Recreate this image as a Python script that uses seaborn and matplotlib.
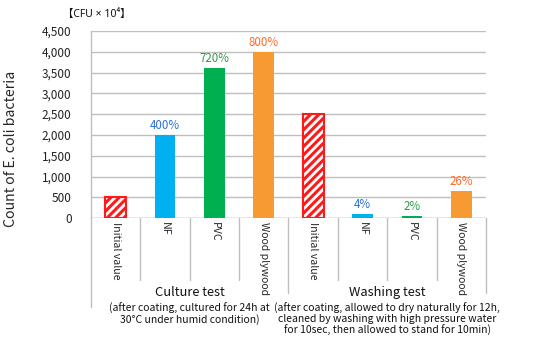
import matplotlib
matplotlib.use("Agg")
import matplotlib.pyplot as plt
from matplotlib.ticker import FuncFormatter
import matplotlib.transforms as mtransforms
import seaborn as sns
import pandas as pd

# Data
categories = ["Initial value", "NF", "PVC", "Wood plywood",
              "Initial value", "NF", "PVC", "Wood plywood"]
groups = ["Culture", "Culture", "Culture", "Culture",
          "Washing", "Washing", "Washing", "Washing"]
materials = ["Initial", "NF", "PVC", "Wood", "Initial", "NF", "PVC", "Wood"]
counts = [500, 2000, 3600, 4000, 2500, 100, 50, 650]
pct_labels = [None, "400%", "720%", "800%", None, "4%", "2%", "26%"]
group_titles = ["Culture test", "Washing test"]
group_notes = [
    "(after coating, cultured for 24h at\n30\u00b0C under humid condition)",
    "(after coating, allowed to dry naturally for 12h,\n"
    "cleaned by washing with high pressure water\n"
    "for 10sec, then allowed to stand for 10min)",
]
y_ticks = [0, 500, 1000, 1500, 2000, 2500, 3000, 3500, 4000, 4500]

bar_colors = {"Initial": "#FFFFFF", "NF": "#00B0F0", "PVC": "#00B050", "Wood": "#F79A31"}
label_colors = {"NF": "#2A6FDB", "PVC": "#2E9A48", "Wood": "#FF6A2B"}

sns.set_style("white")
plt.rcParams["font.family"] = ["Noto Sans CJK JP", "DejaVu Sans"]
plt.rcParams["hatch.linewidth"] = 2.2

df = pd.DataFrame({
    "pos": [f"{g}-{c}" for g, c in zip(groups, categories)],
    "count": counts,
    "material": materials,
})

fig = plt.figure(figsize=(5.4, 3.44), dpi=100)
ax = fig.add_axes([0.1685, 0.366, 0.7315, 0.544])

sns.barplot(data=df, x="pos", y="count", hue="material", palette=bar_colors,
            dodge=False, width=0.42, legend=False, ax=ax, saturation=1)

# Hatched red outline for the initial-value bars, flat fill for the rest
bars = sorted([p for p in ax.patches if p.get_height() > 0], key=lambda p: p.get_x())
for p, mat in zip(bars, materials):
    if mat == "Initial":
        p.set_facecolor("white")
        p.set_edgecolor("#FF1A1A")
        p.set_hatch("////")
        p.set_linewidth(1.5)
    else:
        p.set_edgecolor("none")
    p.set_zorder(3)

# Percentage labels above bars
for i, (val, lab, mat) in enumerate(zip(counts, pct_labels, materials)):
    if lab:
        ax.text(i, val + 70, lab, ha="center", va="bottom", fontsize=8.3,
                color=label_colors[mat], zorder=4)

ax.set_ylim(0, 4500)
ax.set_xlim(-0.5, 7.5)
ax.set_yticks(y_ticks)
ax.yaxis.set_major_formatter(FuncFormatter(lambda v, _: f"{int(v):,}"))
ax.tick_params(axis="y", labelsize=8.5, length=0, pad=14, colors="#222222")
ax.yaxis.grid(True, color="#BFBFBF", linewidth=1.0)
ax.set_axisbelow(True)
for s in ["top", "right", "bottom"]:
    ax.spines[s].set_visible(False)
ax.spines["left"].set_color("#BFBFBF")
ax.spines["left"].set_linewidth(1.0)
ax.axhline(0, color="#BFBFBF", linewidth=1.0, zorder=2)

ax.set_xticks(range(len(categories)))
ax.set_xticklabels(categories, rotation=-90, fontsize=7.6, va="top", ha="center")
ax.tick_params(axis="x", length=0, pad=3)
ax.set_xlabel("")
ax.set_ylabel("Count of E. coli bacteria", fontsize=10.2)
ax.yaxis.set_label_coords(-0.185, 0.37)

# Category separators below the axis
trans = mtransforms.blended_transform_factory(ax.transData, ax.transAxes)
for xb in [0.5, 1.5, 2.5, 4.5, 5.5, 6.5]:
    ax.plot([xb, xb], [0, -0.33], transform=trans, color="#BFBFBF",
            linewidth=1.0, clip_on=False)
for xb in [3.5, 7.5]:
    ax.plot([xb, xb], [0, -0.40], transform=trans, color="#BFBFBF",
            linewidth=1.0, clip_on=False)
ax.plot([-0.5, -0.5], [0, -0.475], transform=trans, color="#BFBFBF",
        linewidth=1.0, clip_on=False)

# Group titles and notes
for center, title, note in zip([1.5, 5.5], group_titles, group_notes):
    ax.text(center, -0.40, title, transform=trans, ha="center", va="center",
            fontsize=9.3, color="#111111")
    ax.text(center, -0.455, note, transform=trans, ha="center", va="top",
            fontsize=7.5, color="#111111", linespacing=1.02)

fig.text(0.117, 0.958, "\u3010CFU \u00d7 10\u2074\u3011", fontsize=7.5,
         ha="left", va="center", color="#111111",
         family=["Noto Sans", "Noto Sans CJK JP"])

fig.savefig("out.png", dpi=100)
